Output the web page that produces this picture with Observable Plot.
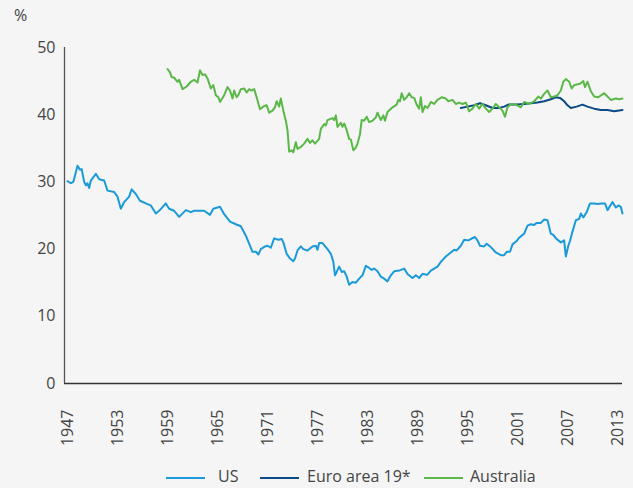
<!DOCTYPE html>
<html>
<head>
<meta charset="utf-8">
<script src="https://cdn.jsdelivr.net/npm/d3@7"></script>
<script src="https://cdn.jsdelivr.net/npm/@observablehq/plot@0.6"></script>
<style>
  html, body { margin: 0; padding: 0; background: #f5f5f5; }
  #wrap { position: relative; width: 633px; height: 488px; font-family: "Open Sans", sans-serif; color: #444; }
  #unit { position: absolute; left: 14px; top: 4px; font-size: 16px; }
  #legend { position: relative; width: 633px; height: 28px; font-size: 16px; }
  .sw { position: absolute; top: 17px; width: 39px; height: 0; border-top: 2px solid; }
  .lb { position: absolute; top: 5px; line-height: 22px; }
</style>
</head>
<body>
<div id="wrap">
  <div id="chart"></div>
  <div id="legend"></div>
  <div id="unit">%</div>
</div>
<script>
// ---- data ----
const seriesNames = ["US", "Euro area 19*", "Australia"];

const usYears = [1947.0,1947.4,1947.7,1948.2,1948.5,1948.7,1949.0,1949.2,1949.4,1949.6,1949.8,1950.4,1950.8,1951.4,1951.8,1952.6,1953.0,1953.4,1953.8,1954.4,1954.7,1955.2,1955.7,1956.6,1957.0,1957.6,1958.0,1958.8,1959.2,1959.8,1960.4,1961.2,1961.8,1962.2,1963.4,1964.1,1964.5,1965.3,1965.8,1966.5,1967.2,1967.8,1968.4,1968.8,1969.2,1969.6,1969.9,1970.2,1970.7,1971.0,1971.4,1971.8,1972.3,1972.7,1972.9,1973.3,1973.7,1974.1,1974.3,1974.6,1975.0,1975.3,1975.8,1976.4,1976.8,1977.0,1977.2,1977.6,1978.2,1978.6,1978.9,1979.1,1979.3,1979.6,1979.9,1980.2,1980.5,1980.8,1981.2,1981.6,1982.0,1982.4,1982.8,1983.2,1983.5,1983.8,1984.2,1984.6,1985.0,1985.4,1985.8,1986.2,1986.8,1987.4,1987.8,1988.4,1988.8,1989.2,1989.6,1990.2,1990.6,1991.0,1991.4,1991.8,1992.4,1993.0,1993.4,1993.7,1994.2,1994.6,1995.1,1995.4,1995.9,1996.2,1996.5,1997.0,1997.3,1997.8,1998.4,1999.0,1999.4,1999.7,2000.1,2000.4,2000.9,2001.2,2001.8,2002.2,2002.6,2003.0,2003.3,2003.8,2004.2,2004.6,2005.0,2005.3,2005.7,2006.2,2006.6,2006.8,2007.1,2007.3,2007.6,2008.0,2008.4,2008.6,2008.9,2009.3,2009.7,2010.2,2010.6,2011.1,2011.5,2011.8,2012.4,2012.8,2013.1,2013.4,2013.6];
const usValues = [30.1,29.8,30.0,32.4,31.8,31.9,30.0,29.5,29.8,29.1,30.2,31.2,30.4,30.2,28.7,28.5,27.8,26.0,27.0,27.8,28.9,28.2,27.2,26.7,26.5,25.3,25.7,26.8,26.0,25.7,24.8,25.8,25.5,25.7,25.7,25.1,26.0,26.3,25.2,24.1,23.7,23.4,22.0,20.8,19.6,19.6,19.2,20.0,20.4,20.5,20.2,21.6,21.4,21.5,21.0,19.3,18.6,18.2,18.6,19.8,20.4,20.0,19.8,20.4,20.5,19.9,20.9,20.9,20.0,19.3,18.1,16.1,16.6,17.4,16.6,16.7,15.9,14.7,15.1,15.0,15.6,16.1,17.5,17.2,16.9,17.1,16.7,15.9,15.6,15.2,16.1,16.7,16.8,17.1,16.3,15.7,16.1,15.7,16.3,16.2,16.8,17.1,17.4,18.1,18.9,19.5,19.9,19.8,20.5,21.4,21.3,21.5,21.8,21.3,20.5,20.4,20.8,20.3,19.5,19.1,19.1,19.6,19.6,20.7,21.2,21.7,22.3,23.5,23.7,23.6,23.9,23.9,24.4,24.3,22.3,22.1,21.5,21.0,21.3,18.9,20.5,21.2,22.6,24.3,24.5,25.3,24.7,25.5,26.8,26.8,26.7,26.8,26.8,25.8,27.0,26.2,26.5,26.3,25.3];

const euroYears = [1994.2,1995.0,1995.8,1996.5,1997.2,1998.0,1998.8,1999.4,1999.9,2000.9,2001.8,2002.6,2003.4,2004.2,2005.0,2005.6,2006.1,2006.6,2007.0,2007.4,2008.1,2008.8,2009.4,2010.2,2011.0,2011.8,2012.6,2013.6];
const euroValues = [41.0,41.2,41.4,41.7,41.4,41.0,41.0,41.2,41.5,41.5,41.6,41.7,41.8,42.0,42.3,42.6,42.5,42.0,41.4,41.0,41.2,41.5,41.2,40.9,40.7,40.7,40.5,40.7];

const ausYears = [1959.0,1959.3,1959.5,1959.8,1960.2,1960.4,1960.8,1961.3,1961.8,1962.2,1962.6,1962.9,1963.2,1963.5,1963.8,1964.2,1964.5,1964.8,1965.1,1965.3,1965.8,1966.2,1966.5,1966.8,1967.0,1967.3,1967.5,1967.8,1968.2,1968.5,1968.8,1969.1,1969.4,1969.7,1970.1,1970.6,1970.9,1971.2,1971.6,1971.9,1972.1,1972.4,1972.6,1972.9,1973.2,1973.4,1973.6,1973.9,1974.1,1974.4,1974.6,1975.0,1975.4,1975.8,1976.1,1976.4,1976.7,1977.2,1977.4,1977.8,1978.0,1978.2,1978.8,1979.0,1979.2,1979.4,1979.8,1980.0,1980.2,1980.5,1980.8,1981.0,1981.3,1981.6,1981.8,1982.1,1982.3,1982.6,1982.9,1983.2,1983.6,1984.0,1984.2,1984.6,1984.9,1985.1,1985.4,1986.0,1986.5,1986.7,1986.9,1987.1,1987.4,1987.7,1988.0,1988.3,1988.6,1988.9,1989.2,1989.4,1989.6,1989.9,1990.2,1990.4,1990.6,1991.0,1991.4,1991.9,1992.4,1992.7,1993.2,1993.6,1994.0,1994.4,1994.8,1995.2,1995.6,1996.0,1996.4,1996.8,1997.2,1997.6,1998.0,1998.4,1998.8,1999.2,1999.5,1999.8,2000.2,2000.8,2001.4,2001.8,2002.4,2003.0,2003.5,2003.8,2004.2,2004.6,2005.0,2005.4,2005.8,2006.2,2006.5,2006.8,2007.2,2007.5,2007.8,2008.1,2008.5,2008.9,2009.1,2009.4,2009.8,2010.2,2010.7,2011.4,2011.8,2012.2,2012.8,2013.2,2013.6];
const ausValues = [46.8,46.3,45.6,45.5,44.9,45.2,43.8,44.2,44.9,45.2,44.8,46.6,45.9,46.0,45.4,43.9,44.4,42.9,42.6,41.9,42.9,44.1,43.6,42.4,43.6,42.6,42.9,43.8,43.9,43.3,43.8,43.6,43.8,42.6,40.8,41.3,41.4,40.3,40.6,41.1,42.0,41.2,42.4,40.6,39.1,37.7,34.5,34.7,34.4,35.9,34.9,35.2,35.7,36.4,35.8,36.2,35.7,36.4,37.9,38.6,38.4,39.2,39.5,39.2,39.9,38.2,38.8,38.2,38.7,37.7,36.4,36.3,34.7,35.1,35.7,37.1,39.2,39.1,39.7,38.9,39.1,39.6,40.3,39.2,39.9,39.1,40.4,41.1,41.5,42.2,42.0,43.2,42.2,42.6,43.2,42.6,42.5,41.5,40.9,42.6,40.4,41.3,41.0,41.4,41.9,41.6,42.2,42.6,42.4,42.0,42.2,41.6,41.8,41.6,41.8,40.5,40.9,41.6,40.9,41.6,40.9,40.4,40.9,41.6,41.1,40.6,39.7,41.1,41.6,41.5,41.1,41.9,41.6,42.0,42.7,42.4,43.1,43.6,42.6,42.7,42.9,43.6,44.9,45.3,44.9,43.9,44.4,44.5,44.6,45.0,44.1,44.9,43.5,42.7,42.6,43.2,42.7,42.2,42.4,42.3,42.4];

const xTicks = [1947,1953,1959,1965,1971,1977,1983,1989,1995,2001,2007,2013];
const yTicks = [0,10,20,30,40,50];

// ---- styles ----
const seriesColors = ["#1a9ad8", "#0a4a87", "#5ab848"];
const xDomain = [1946.64, 2013.6];

const rows = [
  ...usYears.map((y, i) => ({series: seriesNames[0], year: y, value: usValues[i]})),
  ...euroYears.map((y, i) => ({series: seriesNames[1], year: y, value: euroValues[i]})),
  ...ausYears.map((y, i) => ({series: seriesNames[2], year: y, value: ausValues[i]}))
];

const chart = Plot.plot({
  width: 633,
  height: 460,
  marginLeft: 64,
  marginRight: 11,
  marginTop: 47,
  marginBottom: 77,
  style: {fontFamily: "Open Sans, sans-serif", fontSize: "16px", color: "#444", background: "transparent", overflow: "visible"},
  x: {domain: xDomain, ticks: xTicks, tickFormat: d => String(d), tickRotate: -90, tickSize: 0, tickPadding: 26, label: null},
  y: {domain: [0, 50], ticks: yTicks, tickSize: 0, tickPadding: 9, label: null},
  color: {domain: seriesNames, range: seriesColors},
  marks: [
    Plot.ruleX([xDomain[0]], {y1: 0, y2: 50, stroke: "#555", strokeWidth: 1.3}),
    Plot.ruleY([0], {stroke: "#333", strokeWidth: 1.3}),
    Plot.line(rows, {x: "year", y: "value", z: "series", stroke: "series", strokeWidth: 2, curve: "linear"})
  ]
});
document.getElementById("chart").appendChild(chart);

// legend
const legend = document.getElementById("legend");
const swX = [166, 260, 424];
const lbX = [218, 307, 470];
seriesNames.forEach((name, i) => {
  const sw = document.createElement("div");
  sw.className = "sw";
  sw.style.left = swX[i] + "px";
  sw.style.borderTopColor = seriesColors[i];
  legend.appendChild(sw);
  const lb = document.createElement("div");
  lb.className = "lb";
  lb.style.left = lbX[i] + "px";
  lb.textContent = name;
  legend.appendChild(lb);
});
</script>
</body>
</html>
